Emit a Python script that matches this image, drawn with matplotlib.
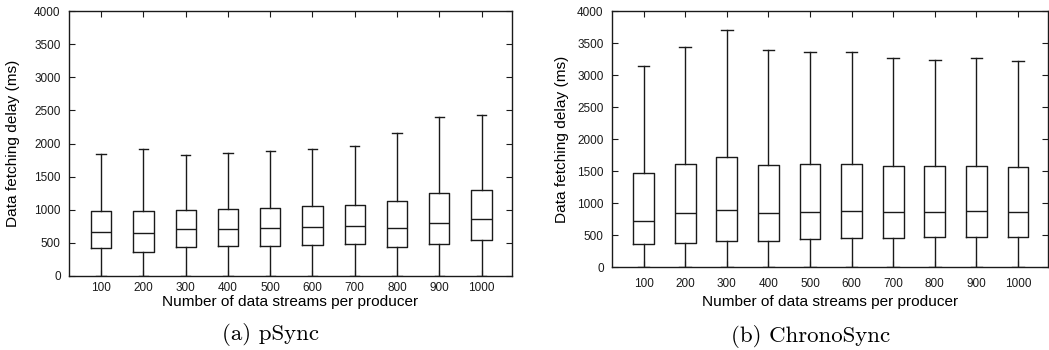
import matplotlib
matplotlib.use("Agg")
import matplotlib.pyplot as plt

# ---- data ----
streams = ["100", "200", "300", "400", "500", "600", "700", "800", "900", "1000"]

psync_low = [0, 0, 0, 0, 0, 0, 0, 0, 0, 0]
psync_q1 = [417, 367, 443, 453, 458, 473, 483, 443, 488, 543]
psync_med = [664, 654, 704, 714, 724, 739, 754, 724, 800, 860]
psync_q3 = [981, 981, 1001, 1016, 1031, 1051, 1071, 1132, 1252, 1293]
psync_high = [1836, 1917, 1831, 1856, 1886, 1922, 1962, 2158, 2399, 2429]

chrono_low = [0, 0, 0, 0, 0, 0, 0, 0, 0, 0]
chrono_q1 = [365, 381, 412, 407, 433, 454, 459, 464, 475, 475]
chrono_med = [725, 840, 887, 845, 860, 871, 866, 866, 876, 866]
chrono_q3 = [1471, 1606, 1726, 1601, 1606, 1611, 1585, 1575, 1585, 1570]
chrono_high = [3145, 3442, 3697, 3390, 3364, 3353, 3265, 3238, 3260, 3218]

yticks = [0, 500, 1000, 1500, 2000, 2500, 3000, 3500, 4000]

SANS = ["Liberation Sans", "DejaVu Sans"]
plt.rcParams["font.family"] = SANS

W, H = 1049, 350
fig = plt.figure(figsize=(W / 100, H / 100), dpi=100)


def make_stats(lo, q1, med, q3, hi):
    return [dict(whislo=a, q1=b, med=c, q3=d, whishi=e, fliers=[])
            for a, b, c, d, e in zip(lo, q1, med, q3, hi)]


def panel(rect, stats, boxw, capw, label_xy, tickpad):
    ax = fig.add_axes(rect)
    lw = 1.0
    col = "#1a1a1a"
    ax.bxp(stats, positions=range(1, len(streams) + 1), widths=boxw,
           showfliers=False, capwidths=capw,
           boxprops=dict(color=col, linewidth=lw),
           whiskerprops=dict(color=col, linewidth=lw),
           capprops=dict(color=col, linewidth=lw),
           medianprops=dict(color=col, linewidth=lw))
    ax.set_xlim(0.24, 10.72)
    ax.set_ylim(0, 4000)
    ax.set_yticks(yticks)
    ax.set_xticks(range(1, len(streams) + 1))
    ax.set_xticklabels(streams)
    ax.tick_params(direction="in", top=True, right=True, length=4,
                   width=0.8, labelsize=8.5, colors="#1a1a1a")
    ax.tick_params(axis="y", pad=6)
    ax.tick_params(axis="x", pad=tickpad)
    for s in ax.spines.values():
        s.set_linewidth(1.0)
        s.set_color("#1a1a1a")
    ax.set_xlabel("Number of data streams per producer", fontsize=11.1)
    ax.set_ylabel("Data fetching delay (ms)", fontsize=11.1)
    ax.xaxis.set_label_coords(0.5, label_xy[0])
    ax.xaxis.label.set_verticalalignment("center")
    ax.yaxis.set_label_coords(label_xy[1], 0.5)
    ax.yaxis.label.set_verticalalignment("center")
    return ax


# left panel: x 69..512, y 11..276 (pixels)
panel([69 / W, 1 - 276 / H, 443 / W, 265 / H],
      make_stats(psync_low, psync_q1, psync_med, psync_q3, psync_high),
      0.48, 0.22, ((276 - 302) / 265, (13 - 69) / 443), 4)

# right panel: x 612..1048, y 11..267 (pixels)
panel([612 / W, 1 - 267 / H, 436 / W, 256 / H],
      make_stats(chrono_low, chrono_q1, chrono_med, chrono_q3, chrono_high),
      0.5, 0.28, ((267 - 302) / 256, (562 - 612) / 436), 8)

fig.text(270 / W, 1 - 335 / H, "(a) pSync", family="cmr10", fontsize=16.5,
         ha="center", va="center")
fig.text(811 / W, 1 - 337 / H, "(b) ChronoSync", family="cmr10", fontsize=16.5,
         ha="center", va="center")

fig.savefig("out.png", dpi=100)
